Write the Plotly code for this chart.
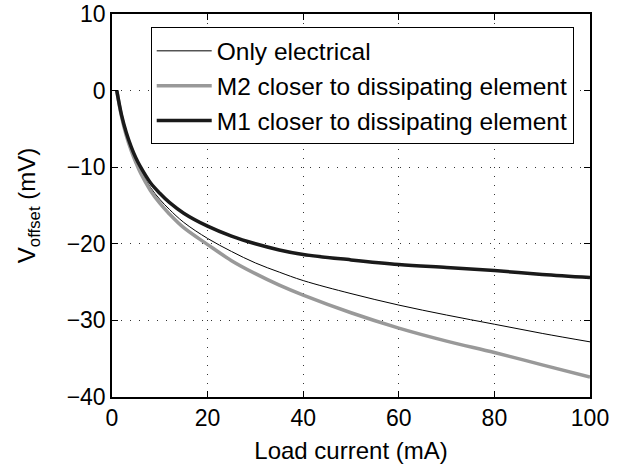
import plotly.graph_objects as go

current_mA = [1, 2, 3, 4, 5, 6, 8, 10, 12, 15, 20, 25, 30, 35, 40, 50, 60, 70, 80, 90, 100]
only_electrical = [0, -3.3, -5.7, -7.6, -9.2, -10.5, -12.6, -14.2, -15.5, -17.2, -19.3, -21.0,
                   -22.5, -23.7, -24.8, -26.5, -28.0, -29.3, -30.5, -31.7, -32.8]
m2_closer = [0, -3.4, -5.9, -7.8, -9.4, -10.8, -13.0, -14.7, -16.1, -17.9, -20.1, -22.2,
             -23.9, -25.4, -26.7, -29.0, -31.0, -32.7, -34.2, -35.8, -37.4]
m1_closer = [0, -3.2, -5.5, -7.3, -8.8, -10.0, -12.0, -13.4, -14.6, -16.0, -17.7, -19.0,
             -20.0, -20.8, -21.4, -22.1, -22.7, -23.1, -23.5, -24.0, -24.4]

x_ticks = [0, 20, 40, 60, 80, 100]
y_ticks = [-40, -30, -20, -10, 0, 10]

fig = go.Figure()
fig.add_trace(go.Scatter(x=current_mA, y=only_electrical, mode="lines", line_shape="spline",
                         name="Only electrical", line=dict(color="black", width=1)))
fig.add_trace(go.Scatter(x=current_mA, y=m2_closer, mode="lines", line_shape="spline",
                         name="M2 closer to dissipating element",
                         line=dict(color="#999999", width=3.5)))
fig.add_trace(go.Scatter(x=current_mA, y=m1_closer, mode="lines", line_shape="spline",
                         name="M1 closer to dissipating element",
                         line=dict(color="#1a1a1a", width=3.5)))

axis_common = dict(
    showline=True, linecolor="black", linewidth=1.5, mirror="ticks",
    ticks="inside", ticklen=6, tickcolor="black", automargin=False,
    showgrid=True, gridcolor="#333333", griddash="1px,8px", gridwidth=1,
    zeroline=False, tickfont=dict(size=23, color="black"),
)

fig.update_layout(
    width=632, height=464,
    margin=dict(l=112, r=42, t=14, b=67),
    paper_bgcolor="white", plot_bgcolor="white",
    font=dict(family="Liberation Sans, Arial, sans-serif", color="black"),
    xaxis=dict(range=[0, 100], tickvals=x_ticks,
               title=dict(text="Load current (mA)", font=dict(size=24), standoff=14),
               **axis_common),
    yaxis=dict(range=[-40, 10], tickvals=y_ticks,
               title=dict(text="V<sub>offset</sub> (mV)", font=dict(size=24), standoff=24),
               **axis_common),
    legend=dict(x=0.081, y=0.965, xanchor="left", yanchor="top",
                bgcolor="white", bordercolor="black", borderwidth=1,
                font=dict(size=24.5), itemwidth=55, tracegroupgap=0),
    showlegend=True,
)

fig.write_html("out.html", config={"displayModeBar": False},
               post_script="document.body.style.margin='0';")
